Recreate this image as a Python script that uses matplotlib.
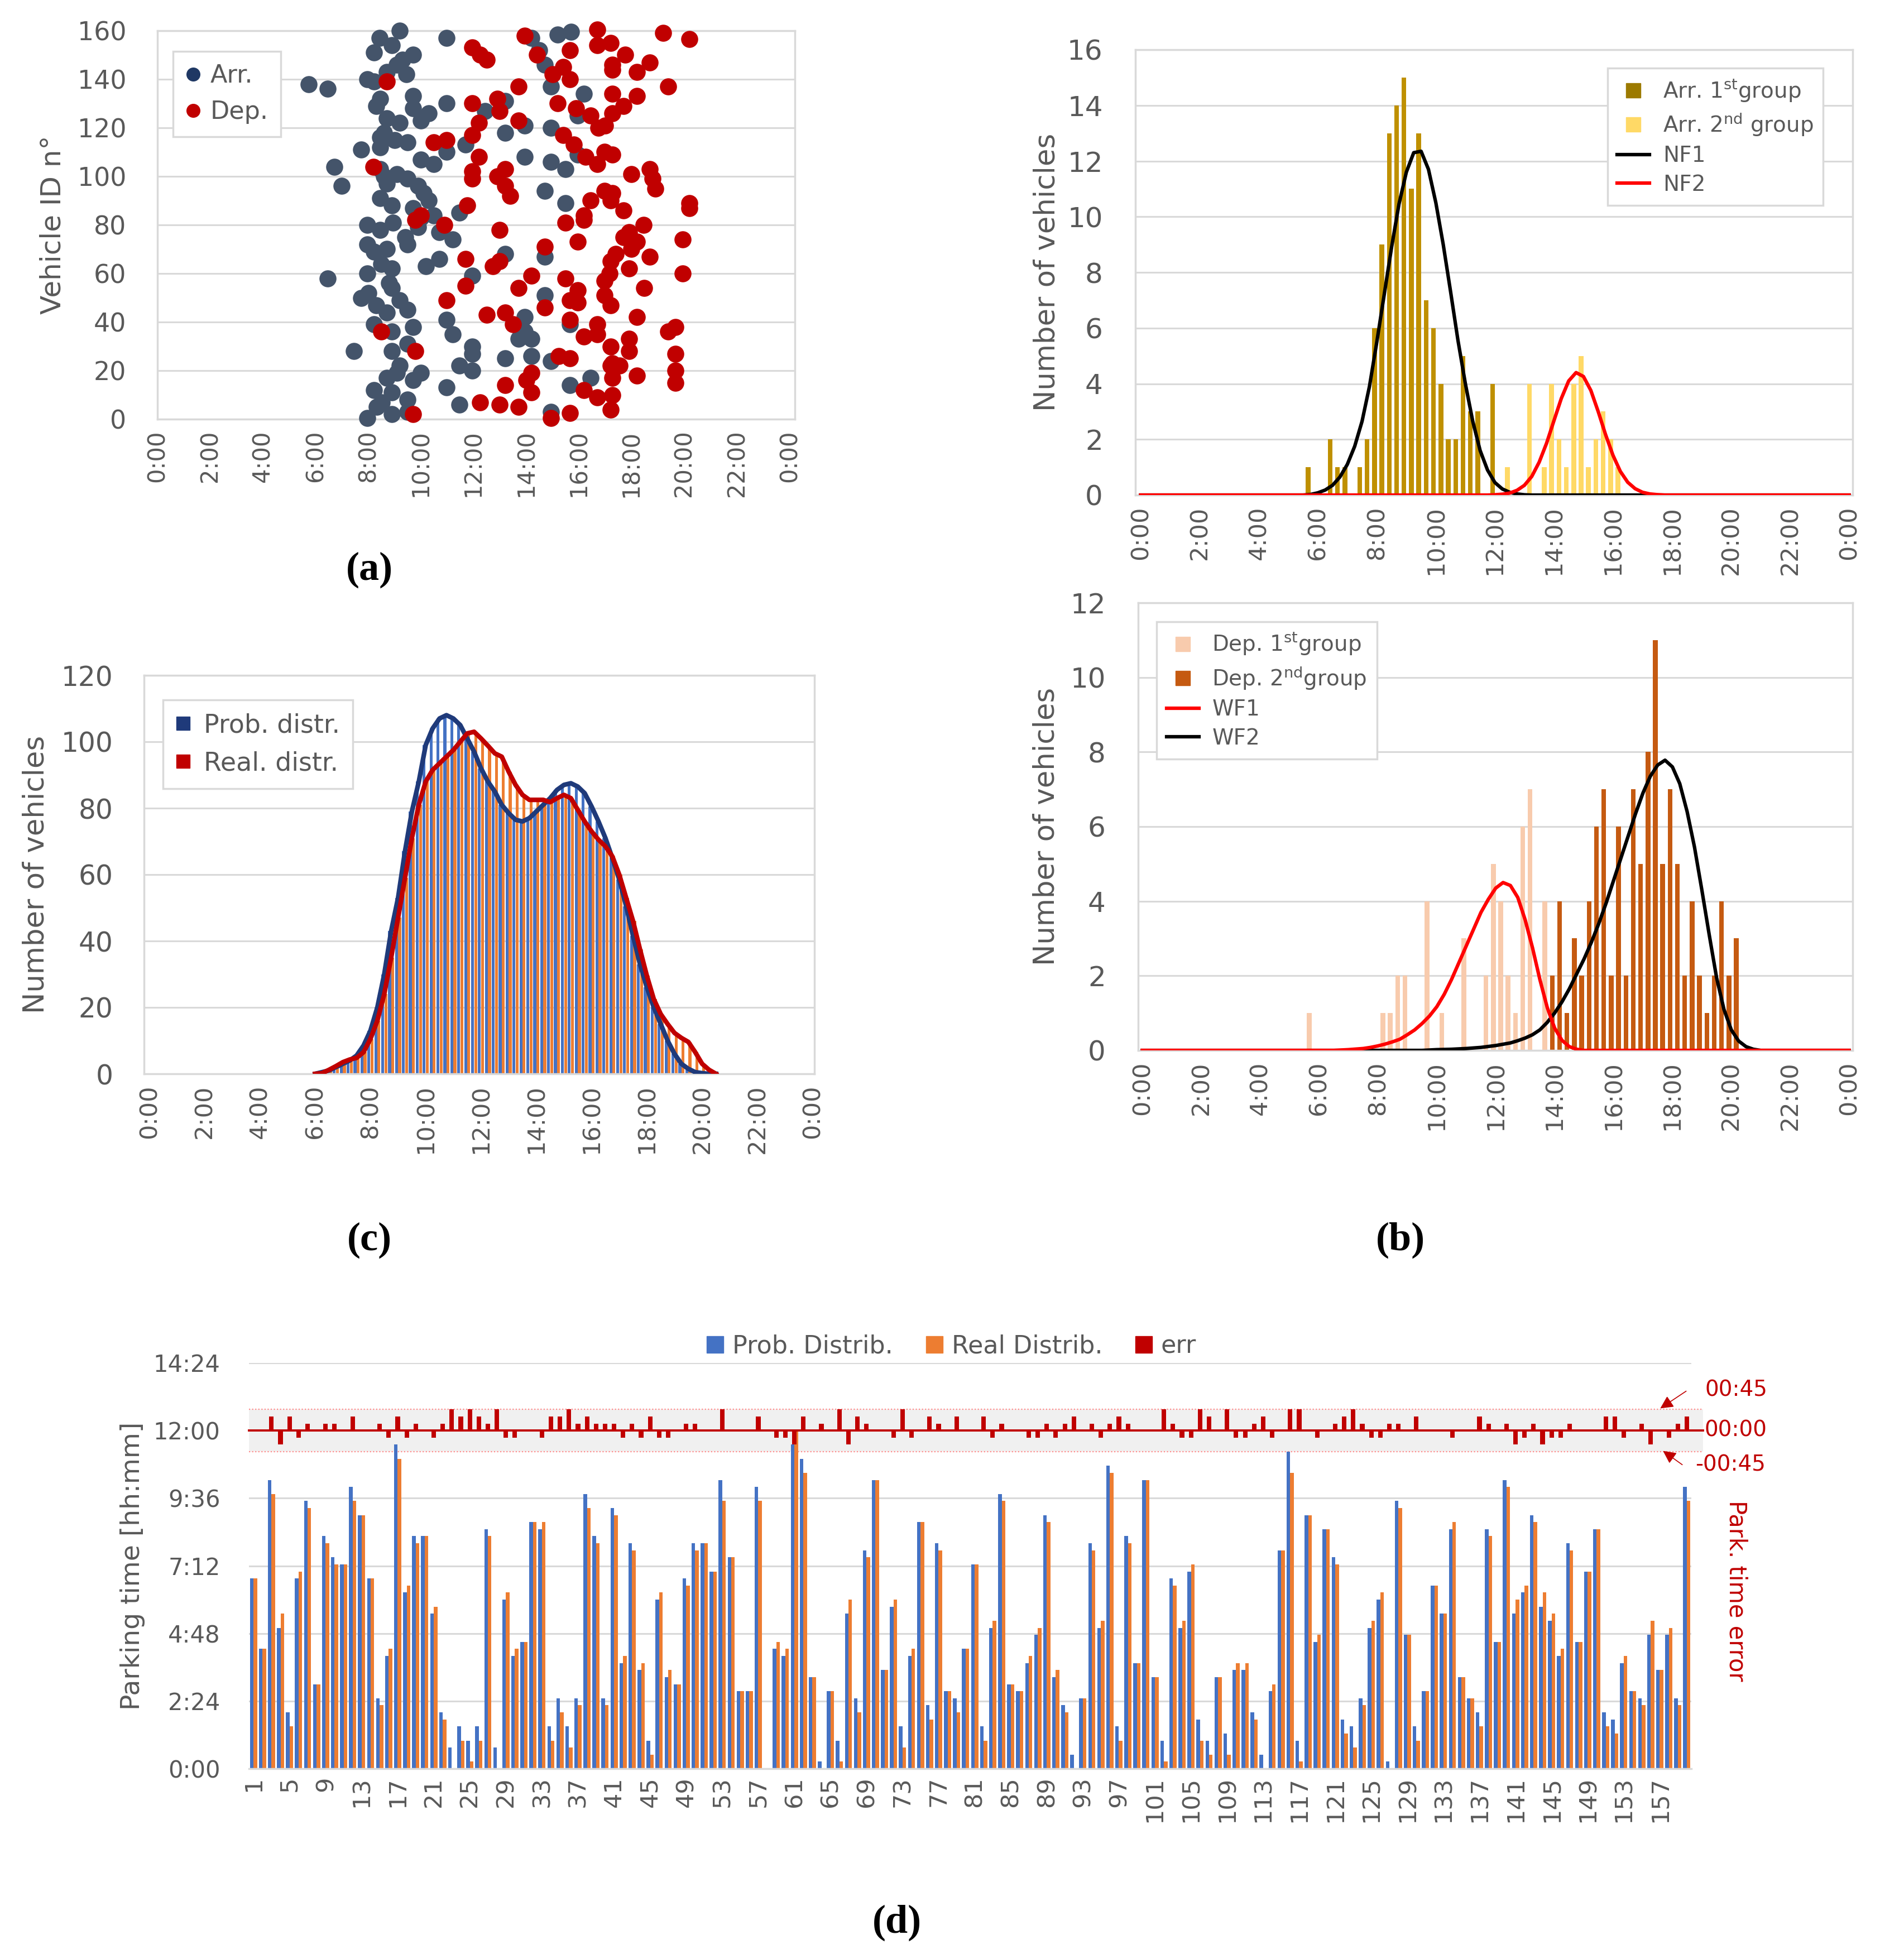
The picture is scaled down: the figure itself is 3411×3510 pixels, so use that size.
import numpy as np
import matplotlib
matplotlib.use('Agg')
import matplotlib.pyplot as plt
from matplotlib.lines import Line2D
from matplotlib.patches import Rectangle

plt.rcParams['font.family'] = ['DejaVu Sans']
plt.rcParams['mathtext.fontset'] = 'dejavusans'

TXT = '#595959'
GRID = '#D9D9D9'

hour_ticks = list(range(0, 25, 2))
hour_labels = ['0:00', '2:00', '4:00', '6:00', '8:00', '10:00', '12:00',
               '14:00', '16:00', '18:00', '20:00', '22:00', '0:00']

# ---------------- (a) arrival / departure time of every vehicle ----------------
arr_time = [9.2, 10.97, 8.43, 8.9, 8.23, 9.7, 9.3, 9.1, 8.7, 9.45, 7.97, 8.23, 5.74, 6.47,
            9.7, 8.46, 8.3, 10.97, 13.2, 12.44, 9.7, 10.29, 10.0, 8.72, 16.2, 14.95, 15.95,
            9.2, 13.2, 13.95, 14.95, 8.6, 8.46, 9.0, 9.5, 7.74, 8.46, 11.7, 10.97, 15.95,
            10.0, 10.48, 13.95, 14.95, 15.48, 6.72, 8.46, 8.6, 9.1, 9.5, 7.0, 14.7, 8.7, 9.9,
            10.1, 10.3, 8.46, 8.9, 9.7, 10.48, 11.46, 15.48, 10.0, 7.97, 8.46, 8.95, 9.4, 9.9,
            10.7, 11.2, 7.97, 8.23, 8.72, 9.5, 10.2, 10.7, 8.5, 8.9, 7.97, 11.95, 13.2, 14.7,
            8.8, 8.9, 6.47, 7.74, 8.0, 8.3, 9.2, 9.5, 8.72, 8.23, 14.7, 10.97, 13.95, 9.7,
            15.67, 8.9, 11.2, 9.5, 8.9, 7.45, 11.95, 11.95, 13.7, 14.2, 13.2, 14.2, 14.95,
            13.95, 9.2, 9.1, 8.72, 10.0, 9.7, 11.46, 11.95, 10.97, 8.23, 8.9, 15.67, 16.45,
            8.52, 8.33, 7.97, 8.9, 9.5, 9.5, 11.46, 14.95, 15.2, 15.7, 14.2, 14.5, 14.7]
arr_id = [160, 157, 157, 154, 151, 150, 148, 146, 143, 142, 140, 139, 138, 136,
          133, 132, 129, 130, 131, 127, 128, 126, 123, 124, 134, 137, 125,
          122, 118, 121, 120, 118, 116, 115, 114, 111, 112, 113, 110, 109,
          107, 105, 108, 106, 103, 104, 103, 100, 101, 99, 96, 94, 97, 96,
          93, 90, 91, 88, 87, 84, 85, 89, 83, 80, 78, 81, 75, 79,
          77, 74, 72, 69, 70, 72, 63, 66, 64, 62, 60, 59, 68, 67,
          56, 54, 58, 50, 52, 47, 49, 45, 44, 39, 51, 41, 42, 38,
          39, 36, 35, 31, 28, 28, 30, 27, 33, 33, 25, 26, 24,
          36, 22, 19, 17, 19, 16, 22, 20, 13, 12, 11, 14, 17,
          7, 5, 0.5, 2, 8, 3, 6, 3, 158.5, 159.5, 157, 152, 146]
dep_time = [13.95, 16.7, 17.2, 16.7, 19.2, 20.2, 11.95, 12.25, 12.5, 14.4, 15.67, 17.75, 17.27,
            18.7, 18.2, 17.27, 15.4, 15.0, 15.67, 8.72, 13.7, 17.27, 18.2, 19.4, 11.95, 12.9,
            15.2, 17.7, 17.27, 15.9, 16.45, 12.99, 12.2, 13.7, 16.75, 17.0, 11.95, 15.4, 15.8,
            10.48, 10.97, 12.2, 16.97, 17.27, 16.25, 16.7, 8.2, 13.2, 11.95, 12.9, 13.2, 11.95,
            13.4, 18.7, 18.8, 18.9, 18.0, 16.45, 16.97, 17.27, 17.2, 17.7, 20.2, 20.2, 11.76,
            10.0, 16.2, 16.2, 15.48, 18.45, 10.9, 12.99, 17.9, 17.7, 18.2, 18.0, 17.4, 17.2,
            18.7, 15.95, 14.7, 19.95, 9.8, 11.7, 12.74, 13.0, 17.16, 17.9, 19.95, 14.2, 15.48,
            11.7, 13.7, 15.95, 16.97, 18.47, 16.97, 15.67, 15.95, 10.97, 14.7, 17.2, 13.2, 12.5,
            13.5, 18.2, 15.67, 16.2, 16.7, 16.7, 17.9, 17.9, 17.2, 19.4, 19.66, 19.66, 15.24,
            15.67, 9.8, 8.5, 14.2, 14.0, 14.2, 13.2, 17.27, 17.55, 17.2, 17.27, 18.2, 19.66,
            19.66, 16.2, 16.7, 17.27, 12.25, 13.0, 13.7, 14.95, 15.67, 17.2, 9.7]
dep_id = [158, 160.5, 155, 154, 159, 156.6, 153, 150, 148, 150, 152, 150, 146,
          147, 143, 144, 145, 142, 140, 139, 137, 134, 133, 137, 130, 132,
          130, 129, 126, 128, 125, 127, 122, 123, 120, 121, 117, 117, 113,
          114, 115, 108, 110, 109, 108, 105, 104, 103, 102, 100, 96, 99,
          92, 103, 99, 95, 101, 90, 94, 93, 90, 86, 89, 87, 88,
          84, 84, 82, 81, 80, 80, 78, 77, 75, 73, 70, 68, 65,
          67, 73, 71, 74, 82, 66, 63, 65, 60, 62, 60, 59, 58,
          55, 54, 53, 57, 54, 51, 49, 48, 49, 46, 47, 44, 43,
          39, 42, 41, 34, 35, 39, 33, 28, 30, 36, 38, 27, 26,
          25, 28, 36, 19, 16, 11, 14, 23, 22, 22, 17, 18, 20,
          15, 12, 9, 10, 7, 6, 5, 0.5, 2.6, 4, 2]

# ---------------- (b) arrivals ----------------
arr1_t = [5.67, 6.42, 6.67, 6.92, 7.42, 7.67, 7.92, 8.17, 8.42, 8.67, 8.92, 9.17, 9.42,
          9.67, 9.92, 10.17, 10.42, 10.67, 10.92, 11.17, 11.42, 11.92]
arr1_n = [1, 2, 1, 1, 1, 2, 6, 9, 13, 14, 15, 11, 13, 7, 6, 4, 2, 2, 5, 3, 3, 4]
arr2_t = [12.42, 13.17, 13.67, 13.92, 14.17, 14.42, 14.67, 14.92, 15.17, 15.42, 15.67,
          15.92, 16.17]
arr2_n = [1, 4, 1, 4, 2, 1, 4, 5, 1, 2, 3, 2, 1]

nf1_t = [0, 5.5, 5.75, 6.0, 6.25, 6.5, 6.75, 7.0, 7.25, 7.5, 7.75, 8.0, 8.25, 8.5, 8.75,
         9.0, 9.25, 9.5, 9.75, 10.0, 10.25, 10.5, 10.75, 11.0, 11.25, 11.5, 11.75, 12.0,
         12.25, 12.5, 12.75, 13.0, 13.25, 24]
nf1_v = [0, 0, 0.02, 0.08, 0.18, 0.35, 0.65, 1.1, 1.75, 2.65, 3.9, 5.5, 7.2, 8.9, 10.45,
         11.6, 12.3, 12.35, 11.7, 10.5, 9.0, 7.3, 5.55, 4.0, 2.65, 1.6, 0.9, 0.45,
         0.22, 0.1, 0.04, 0.01, 0, 0]
nf2_t = [0, 11.75, 12.0, 12.25, 12.5, 12.75, 13.0, 13.25, 13.5, 13.75, 14.0, 14.25, 14.5,
         14.75, 15.0, 15.25, 15.5, 15.75, 16.0, 16.25, 16.5, 16.75, 17.0, 17.25, 17.5,
         17.75, 24]
nf2_v = [0, 0, 0.01, 0.03, 0.07, 0.17, 0.35, 0.67, 1.18, 1.86, 2.67, 3.47, 4.1,
         4.4, 4.26, 3.76, 3.0, 2.17, 1.43, 0.85, 0.46, 0.23, 0.1, 0.04, 0.015,
         0, 0]

# ---------------- (b) departures ----------------
dep1_t = [5.67, 8.17, 8.42, 8.67, 8.92, 9.67, 10.17, 10.92, 11.67, 11.92, 12.17, 12.42,
          12.67, 12.92, 13.17, 13.67]
dep1_n = [1, 1, 1, 2, 2, 4, 1, 3, 2, 5, 4, 2, 1, 6, 7, 4]
dep2_t = [13.92, 14.17, 14.42, 14.67, 14.92, 15.17, 15.42, 15.67, 15.92, 16.17, 16.42,
          16.67, 16.92, 17.17, 17.42, 17.67, 17.92, 18.17, 18.42, 18.67, 18.92, 19.17,
          19.42, 19.67, 19.92, 20.17]
dep2_n = [2, 4, 1, 3, 2, 4, 6, 7, 2, 6, 2, 7, 5, 8, 11, 5, 7, 5, 2, 4, 2, 1, 2, 4, 2, 3]

wf1_t = [0, 6.5, 7.0, 7.5, 7.75, 8.0, 8.25, 8.5, 8.75, 9.0, 9.25, 9.5, 9.75, 10.0, 10.25,
         10.5, 10.75, 11.0, 11.25, 11.5, 11.75, 12.0, 12.25, 12.5, 12.75, 13.0, 13.25,
         13.5, 13.75, 14.0, 14.25, 14.5, 14.75, 15.0, 24]
wf1_v = [0, 0, 0.02, 0.05, 0.08, 0.12, 0.17, 0.23, 0.3, 0.42, 0.55, 0.72, 0.92, 1.17, 1.5,
         1.9, 2.35, 2.8, 3.25, 3.7, 4.05, 4.35, 4.5, 4.42, 4.1, 3.5, 2.75,
         1.9, 1.15, 0.6, 0.27, 0.1, 0.03, 0, 0]
wf2_t = [0, 9.5, 10.0, 10.5, 11.0, 11.5, 12.0, 12.5, 12.75, 13.0, 13.25, 13.5, 13.75, 14.0,
         14.25, 14.5, 14.75, 15.0, 15.25, 15.5, 15.75, 16.0, 16.25, 16.5, 16.75, 17.0,
         17.25, 17.5, 17.75, 18.0, 18.25, 18.5, 18.75, 19.0, 19.25, 19.5, 19.75, 20.0,
         20.25, 20.5, 20.75, 21.0, 24]
wf2_v = [0, 0, 0.02, 0.03, 0.05, 0.08, 0.13, 0.2, 0.26, 0.33, 0.42, 0.55, 0.75, 1.0,
         1.3, 1.65, 2.05, 2.45, 2.9, 3.4, 3.95, 4.55, 5.15, 5.75, 6.35, 6.9,
         7.35, 7.65, 7.78, 7.6, 7.15, 6.4, 5.45, 4.3, 3.1, 1.95, 1.1, 0.55,
         0.25, 0.1, 0.03, 0, 0]

# ---------------- (c) number of parked vehicles, every 15 min ----------------
c_t = [6.0 + 0.25 * i for i in range(59)]
prob_c = [0, 0.5, 1.0, 2.0, 3.0, 4.0, 5.5, 8.5, 13, 20, 30, 43, 53, 67, 79, 88, 99, 104,
          107, 108, 107, 105, 101, 97, 92, 88, 85, 81, 78.5, 76.5, 76, 77, 79, 81, 83,
          85.5, 87, 87.5, 86.5, 84.5, 80.5, 76, 71, 65, 58.5, 50.5, 41.5, 33, 26, 20, 15,
          10, 6, 3, 1.5, 0.5, 0.2, 0, 0]
real_c = [0, 0.2, 1.2, 2.3, 3.5, 4.3, 4.8, 6.5, 10.5, 16, 24, 35, 47, 59, 71, 81, 88,
          91.5, 93.5, 95.5, 97.5, 100, 102.5, 103, 101, 98.8, 96.5, 95.5, 91, 87, 84,
          82.5, 82.5, 82.5, 81.8, 83, 84, 83, 79.5, 76, 73, 70.5, 68.5, 65.5, 60, 53, 46,
          37.5, 29.5, 22.5, 18, 15, 12.3, 10.8, 9.6, 6.5, 3.0, 1.2, 0]

# ---------------- (d) parking time per vehicle (hours) ----------------
prob_d = [6.75, 4.25, 10.25, 5.0, 2.0, 6.75, 9.5, 3.0, 8.25, 7.5, 7.25, 10.0, 9.0, 6.75,
          2.5, 4.0, 11.5, 6.25, 8.25, 8.25, 5.5, 2.0, 0.75, 1.5, 1.0, 1.5, 8.5, 0.75, 6.0,
          4.0, 4.5, 8.75, 8.5, 1.5, 2.5, 1.5, 2.5, 9.75, 8.25, 2.5, 9.25, 3.75, 8.0, 3.5,
          1.0, 6.0, 3.25, 3.0, 6.75, 8.0, 8.0, 7.0, 10.25, 7.5, 2.75, 2.75, 10.0, 0.0,
          4.25, 4.0, 11.5, 11.0, 3.25, 0.25, 2.75, 1.0, 5.5, 2.5, 7.75, 10.25, 3.5, 5.75,
          1.5, 4.0, 8.75, 2.25, 8.0, 2.75, 2.5, 4.25, 7.25, 1.5, 5.0, 9.75, 3.0, 2.75,
          3.75, 4.75, 9.0, 3.25, 2.25, 0.5, 2.5, 8.0, 5.0, 10.75, 1.5, 8.25, 3.75, 10.25,
          3.25, 1.0, 6.75, 5.0, 7.0, 1.75, 1.0, 3.25, 1.25, 3.5, 3.5, 2.0, 0.5, 2.75,
          7.75, 11.25, 1.0, 9.0, 4.5, 8.5, 7.5, 1.75, 1.5, 2.5, 5.0, 6.0, 0.25, 9.5,
          4.75, 1.5, 2.75, 6.5, 5.5, 8.5, 3.25, 2.5, 2.0, 8.5, 4.5, 10.25, 5.5, 6.25,
          9.0, 5.75, 5.25, 4.0, 8.0, 4.5, 7.0, 8.5, 2.0, 1.75, 3.75, 2.75, 2.5, 4.75,
          3.5, 4.75, 2.5, 10.0]
real_d = [6.75, 4.25, 9.75, 5.5, 1.5, 7.0, 9.25, 3.0, 8.0, 7.25, 7.25, 9.5, 9.0, 6.75,
          2.25, 4.25, 11.0, 6.5, 8.0, 8.25, 5.75, 1.75, 0.0, 1.0, 0.25, 1.0, 8.25, 0.0, 6.25,
          4.25, 4.5, 8.75, 8.75, 1.0, 2.0, 0.75, 2.25, 9.25, 8.0, 2.25, 9.0, 4.0, 7.75, 3.75,
          0.5, 6.25, 3.5, 3.0, 6.5, 7.75, 8.0, 7.0, 9.5, 7.5, 2.75, 2.75, 9.5, 0.0,
          4.5, 4.25, 12.0, 10.5, 3.25, 0.0, 2.75, 0.25, 6.0, 2.0, 7.5, 10.25, 3.5, 6.0,
          0.75, 4.25, 8.75, 1.75, 7.75, 2.75, 2.0, 4.25, 7.25, 1.0, 5.25, 9.5, 3.0, 2.75,
          4.0, 5.0, 8.75, 3.5, 2.0, 0.0, 2.5, 7.75, 5.25, 10.5, 1.0, 8.0, 3.75, 10.25,
          3.25, 0.25, 6.5, 5.25, 7.25, 1.0, 0.5, 3.25, 0.5, 3.75, 3.75, 1.75, 0.0, 3.0,
          7.75, 10.5, 0.25, 9.0, 4.75, 8.5, 7.25, 1.25, 0.75, 2.25, 5.25, 6.25, 0.0, 9.25,
          4.75, 1.0, 2.75, 6.5, 5.5, 8.75, 3.25, 2.5, 1.5, 8.25, 4.5, 10.0, 6.0, 6.5,
          8.75, 6.25, 5.5, 4.25, 7.75, 4.5, 7.0, 8.5, 1.5, 1.25, 4.0, 2.75, 2.25, 5.25,
          3.5, 5.0, 2.25, 9.5]
vehicle = list(range(1, len(prob_d) + 1))

W, H = 3411, 3510
fig = plt.figure(figsize=(W / 100, H / 100), dpi=100)


def box(l, t, r, b):
    # axes from pixel box of the reference picture
    return fig.add_axes([l / W, 1 - b / H, (r - l) / W, (b - t) / H])


def excel_style(ax, frame=True):
    for s in ax.spines.values():
        s.set_color(GRID)
        s.set_linewidth(2.5)
        s.set_visible(frame)
    ax.grid(axis='y', color=GRID, lw=2.2)
    ax.set_axisbelow(True)
    ax.tick_params(length=0, colors=TXT)


def hour_axis(ax, xmin, xmax, size=30):
    ax.set_xlim(xmin, xmax)
    ax.set_xticks(hour_ticks)
    ax.set_xticklabels(hour_labels, rotation=90, fontsize=size, color=TXT)
    ax.tick_params(axis='x', pad=14)


def legend_box(ax, handles, labels, x0, y1, size, **kw):
    leg = ax.legend(handles, labels, loc='upper left', bbox_to_anchor=(x0, y1),
                    borderaxespad=0, fancybox=False, framealpha=1,
                    prop={'size': size}, labelcolor=TXT, **kw)
    leg.get_frame().set_edgecolor(GRID)
    leg.get_frame().set_linewidth(2.5)
    return leg


# ---- (a)
ax = box(282, 55, 1424, 751)
excel_style(ax)
ax.scatter(arr_time, arr_id, s=22 ** 2, color='#44546A', lw=0, zorder=3, clip_on=False)
ax.scatter(dep_time, dep_id, s=22 ** 2, color='#C00000', lw=0, zorder=3, clip_on=False)
ax.set_ylim(0, 160)
ax.set_yticks(range(0, 161, 20))
ax.tick_params(axis='y', labelsize=33, pad=40)
hour_axis(ax, 0, 24.2)
ax.set_ylabel('Vehicle ID n°', fontsize=36, color=TXT)
ax.yaxis.set_label_coords(-0.1436, 0.5)
h = [Line2D([], [], ls='none', marker='o', ms=17, color='#1F3864'),
     Line2D([], [], ls='none', marker='o', ms=17, color='#C00000')]
legend_box(ax, h, ['Arr.', 'Dep.'], 0.0245, 0.947, 32, handlelength=0.6,
           handletextpad=0.4, borderpad=0.5, labelspacing=0.5)

# ---- (b) top
ax = box(2034, 89, 3319, 887)
excel_style(ax)
ax.bar(arr1_t, arr1_n, width=0.16, color='#BF9000', zorder=2)
ax.bar(arr2_t, arr2_n, width=0.16, color='#FFD966', zorder=2)
ax.plot(nf1_t, nf1_v, color='black', lw=4.5, zorder=3)
ax.plot(nf2_t, nf2_v, color='#FF0000', lw=4.5, zorder=4)
ax.set_ylim(0, 16)
ax.set_yticks(range(0, 17, 2))
ax.tick_params(axis='y', labelsize=36, pad=42)
hour_axis(ax, -0.18, 24.12, 31)
ax.set_ylabel('Number of vehicles', fontsize=37, color=TXT)
ax.yaxis.set_label_coords(-0.104, 0.5)
h = [Line2D([], [], ls='none', marker='s', ms=19, color='#9C7A00'),
     Line2D([], [], ls='none', marker='s', ms=19, color='#FFD966'),
     Line2D([], [], color='black', lw=4.5),
     Line2D([], [], color='#FF0000', lw=4.5)]
legend_box(ax, h, ['Arr. 1$^{\\mathrm{st}}$group', 'Arr. 2$^{\\mathrm{nd}}$ group', 'NF1', 'NF2'],
           0.658, 0.959, 28, handlelength=1.5, handletextpad=0.6, borderpad=0.45,
           labelspacing=0.35)

# ---- (b) bottom
ax = box(2039, 1080, 3319, 1882)
excel_style(ax)
ax.bar(dep1_t, dep1_n, width=0.16, color='#F8CBAD', zorder=2)
ax.bar(dep2_t, dep2_n, width=0.16, color='#C55A11', zorder=2)
ax.plot(wf2_t, wf2_v, color='black', lw=4.5, zorder=3)
ax.plot(wf1_t, wf1_v, color='#FF0000', lw=4.5, zorder=4)
ax.set_ylim(0, 12)
ax.set_yticks(range(0, 13, 2))
ax.tick_params(axis='y', labelsize=36, pad=42)
hour_axis(ax, -0.14, 24.12, 31)
ax.set_ylabel('Number of vehicles', fontsize=37, color=TXT)
ax.yaxis.set_label_coords(-0.1086, 0.5)
h = [Line2D([], [], ls='none', marker='s', ms=19, color='#F8CBAD'),
     Line2D([], [], ls='none', marker='s', ms=19, color='#C55A11'),
     Line2D([], [], color='#FF0000', lw=4.5),
     Line2D([], [], color='black', lw=4.5)]
legend_box(ax, h, ['Dep. 1$^{\\mathrm{st}}$group', 'Dep. 2$^{\\mathrm{nd}}$group', 'WF1', 'WF2'],
           0.026, 0.958, 28, handlelength=1.5, handletextpad=0.6, borderpad=0.45,
           labelspacing=0.35)

# ---- (c)
ax = box(258, 1210, 1459, 1924)
excel_style(ax)
ax.bar([t - 0.0575 for t in c_t], prob_c, width=0.105, color='#4472C4', zorder=2)
ax.bar([t + 0.0575 for t in c_t], real_c, width=0.105, color='#ED7D31', zorder=2)
ax.plot(c_t, prob_c, color='#1F3A7A', lw=6, zorder=3)
ax.plot(c_t, real_c, color='#C00000', lw=6, zorder=4)
ax.set_ylim(0, 120)
ax.set_yticks(range(0, 121, 20))
ax.tick_params(axis='y', labelsize=35, pad=40)
hour_axis(ax, -0.19, 24.06, 31)
ax.set_ylabel('Number of vehicles', fontsize=37, color=TXT)
ax.yaxis.set_label_coords(-0.140, 0.5)
h = [Line2D([], [], ls='none', marker='s', ms=17, color='#1F3A7A'),
     Line2D([], [], ls='none', marker='s', ms=17, color='#C00000')]
legend_box(ax, h, ['Prob. distr.', 'Real. distr.'], 0.028, 0.938, 33, handlelength=0.6,
           handletextpad=0.5, borderpad=0.5, labelspacing=0.5)

# ---- (d)
ax = box(446, 2442, 3030, 3169)
excel_style(ax, frame=False)
ax.spines['bottom'].set_visible(True)
ax.bar([v - 0.2 for v in vehicle], prob_d, width=0.4, color='#4472C4', zorder=2)
ax.bar([v + 0.2 for v in vehicle], real_d, width=0.4, color='#ED7D31', zorder=2)
err_d = [p - r for p, r in zip(prob_d, real_d)]
ax.add_patch(Rectangle((0.5, 11.25), 161.3, 1.5, facecolor='#F0F0F0', edgecolor='none',
                       zorder=1.5, clip_on=False))
for yy in (11.25, 12.75):
    ax.plot([0.5, 161.8], [yy, yy], ls=(0, (1, 1.5)), color='#FF8C8C', lw=1.6, zorder=1.6,
            clip_on=False)
ax.bar(vehicle, err_d, bottom=12, width=0.5, color='#C00000', zorder=4)
ax.plot([0.5, 161.8], [12, 12], color='#C00000', lw=2.8, zorder=4, clip_on=False)
ax.set_xlim(0.5, 160.5)
ax.set_ylim(0, 14.4)
ax.set_yticks([0, 2.4, 4.8, 7.2, 9.6, 12, 14.4])
ax.set_yticklabels(['0:00', '2:24', '4:48', '7:12', '9:36', '12:00', '14:24'])
ax.tick_params(axis='y', labelsize=30, pad=37)
ax.set_xticks(vehicle[::4])
ax.set_xticklabels([str(v) for v in vehicle[::4]], rotation=90, fontsize=31, color=TXT)
ax.tick_params(axis='x', pad=10)
ax.set_ylabel('Parking time [hh:mm]', fontsize=34, color=TXT)
ax.yaxis.set_label_coords(-0.072, 0.5)
h = [Line2D([], [], ls='none', marker='s', ms=21, color='#4472C4'),
     Line2D([], [], ls='none', marker='s', ms=21, color='#ED7D31'),
     Line2D([], [], ls='none', marker='s', ms=21, color='#C00000')]
ax.legend(h, ['Prob. Distrib.', 'Real Distrib.', 'err'], loc='center',
          bbox_to_anchor=(0.487, 1.041), ncol=3, frameon=False, prop={'size': 32},
          labelcolor=TXT, handlelength=0.7, handletextpad=0.35, columnspacing=1.3)

RED = '#C00000'
fig.text(3110 / W, 1 - 2490 / H, '00:45', color=RED, fontsize=28, ha='center', va='center')
fig.text(3110 / W, 1 - 2562 / H, '00:00', color=RED, fontsize=28, ha='center', va='center')
fig.text(3100 / W, 1 - 2624 / H, '-00:45', color=RED, fontsize=28, ha='center', va='center')
fig.text(3111 / W, 1 - 2850 / H, 'Park. time error', color=RED, fontsize=30, rotation=270,
         ha='center', va='center')
for tail, tip in (((3023, 2491), (2972, 2525)), ((3016, 2626), (2977, 2598))):
    ax.annotate('', xy=(tip[0] / W, 1 - tip[1] / H), xytext=(tail[0] / W, 1 - tail[1] / H),
                xycoords='figure fraction', textcoords='figure fraction',
                arrowprops=dict(arrowstyle='-|>', color=RED, lw=1.2, mutation_scale=35))

# ---- panel letters
for x, y, s in ((662, 1021, '(a)'), (2509, 2222, '(b)'), (662, 2222, '(c)'),
                (1607, 3445, '(d)')):
    fig.text(x / W, 1 - y / H, s, fontsize=52, fontweight='bold', family='Liberation Serif',
             ha='center', va='center', color='black')

fig.savefig('out.png', dpi=100, facecolor='white')
